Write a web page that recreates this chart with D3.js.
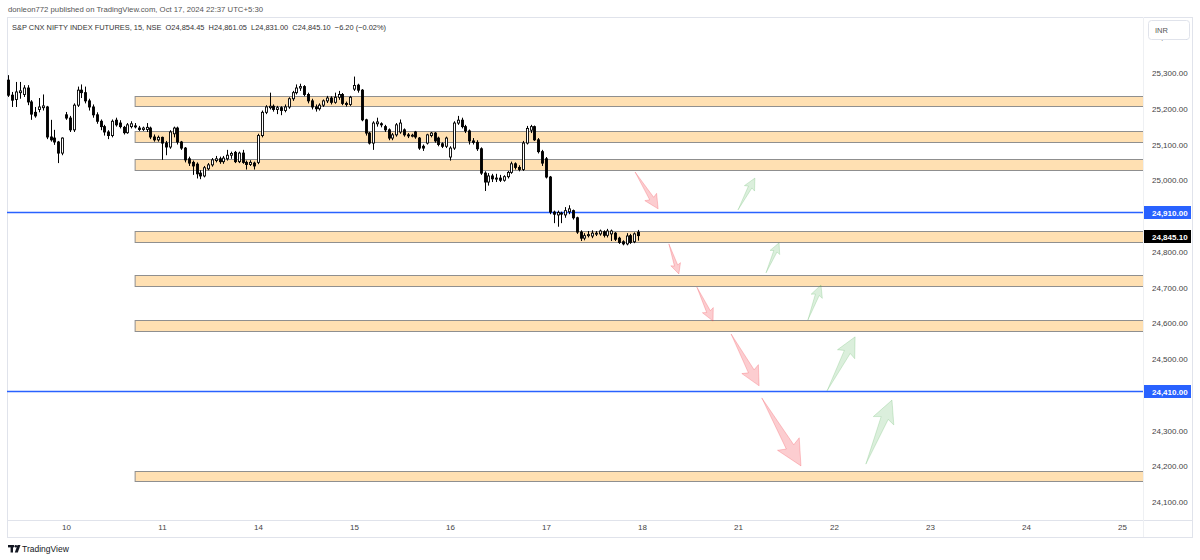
<!DOCTYPE html>
<html><head><meta charset="utf-8">
<script src="https://cdn.jsdelivr.net/npm/d3@7"></script>
<style>html,body{margin:0;padding:0;background:#fff;overflow:hidden}svg{display:block;font-family:"Liberation Sans",Arial,sans-serif}</style>
</head><body><svg id="c" width="1200" height="560"></svg>
<script>
// ---------- DATA ----------
const dayLabels = ["10","11","14","15","16","17","18","21","22","23","24","25"];
const firstDayBar = 15;      // bars of the 9th visible before "10"
const barsPerDay = 25;       // 15-minute bars per NSE session

const opens = [
 // 9th (partial)
 25280,25238,25226,25245,25240,25258,25219,25190,25198,25203,25205,25121,25118,25107,25076,
 // 10th
 25183,25174,25141,25210,25252,25245,25222,25205,25183,25165,25150,25135,25125,25168,25160,25148,25133,25150,25152,25146,25142,25142,25146,25121,25113,
 // 11th
 25120,25104,25093,25130,25146,25107,25090,25060,25050,25045,25020,25012,25032,25043,25055,25060,25052,25060,25070,25078,25052,25076,25050,25044,25048,
 // 14th
 25050,25125,25190,25203,25207,25198,25203,25195,25205,25228,25245,25258,25262,25240,25222,25205,25200,25210,25222,25230,25218,25232,25240,25215,25212,
 // 15th
 25255,25266,25252,25169,25132,25104,25158,25158,25150,25141,25118,25127,25135,25141,25127,25124,25135,25118,25095,25104,25125,25132,25118,25102,25095,
 // 16th
 25065,25090,25160,25168,25150,25138,25110,25106,25088,25020,24995,25012,25004,25006,25000,25010,25022,25046,25036,25030,25104,25140,25150,25113,25080,
 // 17th
 25060,25009,24911,24903,24908,24903,24912,24915,24895,24855,24838,24845,24844,24850,24850,24856,24846,24850,24852,24838,24828,24822,24845,24828,24854.45
];
const highs = [
 25294,25247,25275,25275,25266,25266,25224,25205,25230,25240,25208,25169,25141,25110,25120,
 25191,25180,25215,25262,25268,25262,25228,25212,25190,25170,25155,25140,25170,25175,25168,25152,25160,25165,25160,25152,25150,25160,25150,25128,25125,
 25122,25110,25140,25150,25150,25110,25093,25066,25055,25050,25028,25040,25048,25062,25068,25066,25068,25085,25080,25082,25080,25085,25055,25056,25052,
 25130,25195,25210,25245,25212,25208,25207,25212,25232,25250,25268,25270,25266,25245,25228,25212,25215,25226,25236,25235,25245,25250,25244,25220,25236,
 25290,25270,25255,25172,25135,25165,25175,25162,25155,25145,25132,25160,25170,25145,25132,25130,25138,25121,25100,25130,25135,25135,25122,25106,25122,
 25095,25165,25180,25175,25155,25142,25118,25112,25092,25025,25020,25018,25018,25015,25014,25026,25052,25050,25042,25110,25152,25155,25153,25118,25085,
 25065,25012,24915,24915,24912,24925,24930,24918,24898,24860,24852,24858,24860,24858,24862,24860,24864,24862,24855,24842,24832,24852,24850,24854,24861.05
];
const lows = [
 25233,25205,25205,25228,25233,25210,25169,25175,25190,25195,25115,25108,25099,25048,25070,
 25169,25135,25135,25205,25230,25215,25195,25175,25158,25140,25125,25115,25120,25150,25145,25128,25130,25145,25145,25138,25138,25135,25115,25108,25108,
 25057,25070,25088,25120,25100,25085,25050,25040,25015,25005,25003,25008,25028,25038,25050,25046,25046,25055,25060,25048,25048,25046,25030,25040,25030,
 25045,25120,25185,25198,25192,25185,25182,25190,25200,25222,25240,25250,25235,25215,25198,25192,25195,25205,25216,25212,25214,25225,25210,25206,25208,
 25250,25245,25165,25125,25100,25085,25150,25148,25135,25112,25112,25122,25130,25122,25118,25120,25116,25085,25082,25100,25120,25105,25095,25090,25090,
 25055,25085,25155,25145,25132,25100,25100,25082,25015,24970,24985,24995,24995,24995,24996,25005,25018,25030,25025,25026,25100,25132,25110,25075,25040,
 25005,24905,24880,24870,24880,24895,24905,24890,24850,24830,24832,24840,24838,24844,24845,24840,24840,24830,24830,24822,24818,24818,24822,24824,24831
];
const closes = [
 25238,25224,25247,25250,25258,25219,25185,25180,25205,25208,25121,25113,25107,25076,25118,
 25174,25141,25210,25252,25245,25222,25205,25183,25165,25150,25135,25125,25165,25155,25150,25133,25155,25158,25150,25142,25146,25148,25121,25113,25120,
 25104,25093,25135,25146,25107,25090,25057,25048,25040,25018,25012,25035,25043,25057,25060,25052,25062,25070,25075,25052,25076,25050,25044,25050,25040,
 25125,25190,25205,25207,25198,25203,25195,25205,25228,25245,25258,25262,25240,25222,25205,25200,25210,25222,25230,25218,25232,25240,25215,25212,25232,
 25265,25252,25169,25132,25104,25160,25163,25155,25141,25118,25127,25155,25160,25127,25124,25126,25121,25090,25090,25127,25132,25110,25100,25095,25118,
 25090,25160,25168,25150,25138,25110,25106,25088,25020,24995,25012,25004,25006,25000,25010,25022,25046,25036,25030,25104,25145,25150,25113,25080,25048,
 25009,24911,24905,24910,24906,24915,24920,24895,24855,24838,24845,24848,24852,24852,24858,24846,24858,24858,24835,24826,24822,24844,24826,24850,24845.10
];

// support / resistance zones (price bands)
const zoneTops    = [25236,25138,25059,24858,24735,24609,24187];
const zoneBottoms = [25208,25107,25029,24827,24704,24578,24159];
const zoneStartBar = 33;

// horizontal levels
const levels = [24910, 24410];
const lastClose = 24845.10;
// axis ticks (24,900 and 24,400 sit under the level tags, as in the original)
const priceTicks = [24100,24200,24300,24500,24600,24700,24800,25000,25100,25200,25300,25400];

// projection arrows: [fromBar, fromPrice, toBar, toPrice]
const downArrows = [
 [163.2,25023,169.2,24920],
 [172.0,24822,174.6,24738],
 [179.3,24701,183.5,24606],
 [188.2,24570,195.5,24425],
 [196.2,24391,206.4,24201]
];
const upArrows = [
 [190.0,24917,194.4,25006],
 [197.3,24741,200.7,24825],
 [208.2,24609,211.6,24707],
 [213.2,24411,220.5,24562],
 [223.3,24206,230.1,24385]
];

const headerLine1 = "donleon772 published on TradingView.com, Oct 17, 2024 22:37 UTC+5:30";
const headerLine2 = "S&P CNX NIFTY INDEX FUTURES, 15, NSE  O24,854.45  H24,861.05  L24,831.00  C24,845.10  \u22126.20 (\u22120.02%)";

// ---------- LAYOUT ----------
const svg = d3.select("#c");
const P = {left:7, top:17, right:1143, bottom:520, outerRight:1192, outerBottom:537};
const lastBar = firstDayBar + barsPerDay*(dayLabels.length-1);
const x = d3.scaleLinear().domain([0, lastBar]).range([8.4, 8.4 + 3.84*lastBar]);
const y = d3.scaleLinear().domain([24100, 25300]).range([502, 73]);

svg.append("defs").append("clipPath").attr("id","plot")
  .append("rect").attr("x",P.left).attr("y",P.top).attr("width",P.right-P.left).attr("height",P.bottom-P.top);

// header
svg.append("text").attr("x",8).attr("y",12).attr("font-size",8).attr("fill","#555")
  .attr("textLength",255).attr("lengthAdjust","spacingAndGlyphs").text(headerLine1);
svg.append("text").attr("x",12).attr("y",30).attr("font-size",8).attr("fill","#333")
  .style("white-space","pre").attr("textLength",374).attr("lengthAdjust","spacingAndGlyphs").text(headerLine2);

// frame
svg.append("rect").attr("x",P.left+0.5).attr("y",P.top+0.5).attr("width",P.outerRight-P.left).attr("height",P.outerBottom-P.top)
  .attr("fill","none").attr("stroke","#e0e3eb");
svg.append("line").attr("x1",P.left).attr("x2",P.outerRight).attr("y1",P.bottom+0.5).attr("y2",P.bottom+0.5).attr("stroke","#e0e3eb");
svg.append("line").attr("x1",P.right+0.5).attr("x2",P.right+0.5).attr("y1",P.top).attr("y2",P.outerBottom).attr("stroke","#eef0f3");

const plot = svg.append("g").attr("clip-path","url(#plot)");

// zones
plot.selectAll("rect.zone").data(zoneTops.map((t,i)=>({t, b:zoneBottoms[i]}))).join("rect")
  .attr("class","zone")
  .attr("x", x(zoneStartBar)).attr("width", P.right - x(zoneStartBar) + 5)
  .attr("y", d=>Math.round(y(d.t))+0.5).attr("height", d=>Math.round(y(d.b))-Math.round(y(d.t)))
  .attr("fill","#ffe0b2").attr("stroke","#8f8f8f").attr("stroke-width",1);

// levels
plot.selectAll("line.lvl").data(levels).join("line").attr("class","lvl")
  .attr("x1",P.left).attr("x2",P.right)
  .attr("y1",d=>Math.round(y(d))+0.5).attr("y2",d=>Math.round(y(d))+0.5)
  .attr("stroke","#2962ff").attr("stroke-width",1.5);

// candles
const bars = d3.range(closes.length).map(i=>({i,o:opens[i],h:highs[i],l:lows[i],c:closes[i]}));
const cg = plot.append("g");
cg.selectAll("line.wick").data(bars).join("line").attr("class","wick")
  .attr("x1",d=>Math.round(x(d.i))+0.5).attr("x2",d=>Math.round(x(d.i))+0.5)
  .attr("y1",d=>y(d.h)).attr("y2",d=>y(d.l)).attr("stroke","#000").attr("stroke-width",1);
cg.selectAll("rect.body").data(bars).join("rect").attr("class","body")
  .attr("x",d=>Math.round(x(d.i))-0.5).attr("width",2)
  .attr("y",d=>y(Math.max(d.o,d.c))).attr("height",d=>Math.max(1,Math.abs(y(d.o)-y(d.c))))
  .attr("fill",d=>d.c>=d.o?"#fff":"#000").attr("stroke","#000").attr("stroke-width",0.9);

// arrows
function arrowPts(a){
  const x1=x(a[0]), y1=y(a[1]), x2=x(a[2]), y2=y(a[3]);
  const dx=x2-x1, dy=y2-y1, L=Math.hypot(dx,dy), ux=dx/L, uy=dy/L, nx=-uy, ny=ux;
  const hl=L*0.28, hw=L*0.16, bw=L*0.055;
  const bx=x2-ux*hl, by=y2-uy*hl;
  const bx2=x2-ux*hl*1.15, by2=y2-uy*hl*1.15;
  return [[x1,y1],[bx+nx*bw,by+ny*bw],[bx2+nx*hw,by2+ny*hw],[x2,y2],[bx2-nx*hw,by2-ny*hw],[bx-nx*bw,by-ny*bw]];
}
plot.selectAll("polygon.dn").data(downArrows).join("polygon").attr("class","dn")
  .attr("points",d=>arrowPts(d).map(p=>p.join(",")).join(" "))
  .attr("fill","#f23645").attr("fill-opacity",0.25).attr("stroke","#f23645").attr("stroke-opacity",0.25);
plot.selectAll("polygon.up").data(upArrows).join("polygon").attr("class","up")
  .attr("points",d=>arrowPts(d).map(p=>p.join(",")).join(" "))
  .attr("fill","#4caf50").attr("fill-opacity",0.2).attr("stroke","#4caf50").attr("stroke-opacity",0.22);

// price axis
const ya = svg.append("g").attr("transform",`translate(${P.right},0)`)
  .call(d3.axisRight(y).tickValues(priceTicks).tickFormat(d3.format(",.2f")).tickSize(0).tickPadding(9));
ya.select(".domain").remove();
ya.selectAll("text").attr("font-size",8).attr("fill","#444").attr("font-family","Liberation Sans, Arial, sans-serif");

// price labels
const tags = levels.map(v=>({v,bg:"#2962ff"})).concat([{v:lastClose,bg:"#000"}]);
const tg = svg.append("g");
tg.selectAll("rect").data(tags).join("rect")
  .attr("x",P.right+1).attr("y",d=>Math.round(y(d.v))-6).attr("width",47).attr("height",13).attr("fill",d=>d.bg);
tg.selectAll("text").data(tags).join("text")
  .attr("x",P.right+9).attr("y",d=>Math.round(y(d.v))+3.5).attr("font-size",8).attr("font-weight","bold")
  .attr("fill","#fff").text(d=>d3.format(",.2f")(d.v));

// INR box
svg.append("rect").attr("x",1148.5).attr("y",20.5).attr("width",41).attr("height",19).attr("rx",3)
  .attr("fill","#fff").attr("stroke","#e0e3eb");
svg.append("text").attr("x",1155).attr("y",33).attr("font-size",7.5).attr("fill","#555").text("INR");

// time axis
const dayBars = dayLabels.map((d,i)=>firstDayBar + i*barsPerDay);
const xa = svg.append("g").attr("transform",`translate(0,${P.bottom})`)
  .call(d3.axisBottom(x).tickValues(dayBars).tickFormat((d,i)=>dayLabels[i]).tickSize(0).tickPadding(4));
xa.select(".domain").remove();
xa.selectAll("text").attr("font-size",8).attr("fill","#444").attr("font-family","Liberation Sans, Arial, sans-serif");

// footer logo
const lg = svg.append("g").attr("fill","#131722");
lg.append("rect").attr("x",8).attr("y",545).attr("width",6).attr("height",2.4);
lg.append("rect").attr("x",10.6).attr("y",545).attr("width",2.4).attr("height",7.5);
lg.append("circle").attr("cx",15.8).attr("cy",546.3).attr("r",1.3);
lg.append("polygon").attr("points","17.5,545 20.5,545 17.8,552.5 14.8,552.5");
svg.append("text").attr("x",22).attr("y",552).attr("font-size",8.5).attr("fill","#131722").text("TradingView");
</script></body></html>
